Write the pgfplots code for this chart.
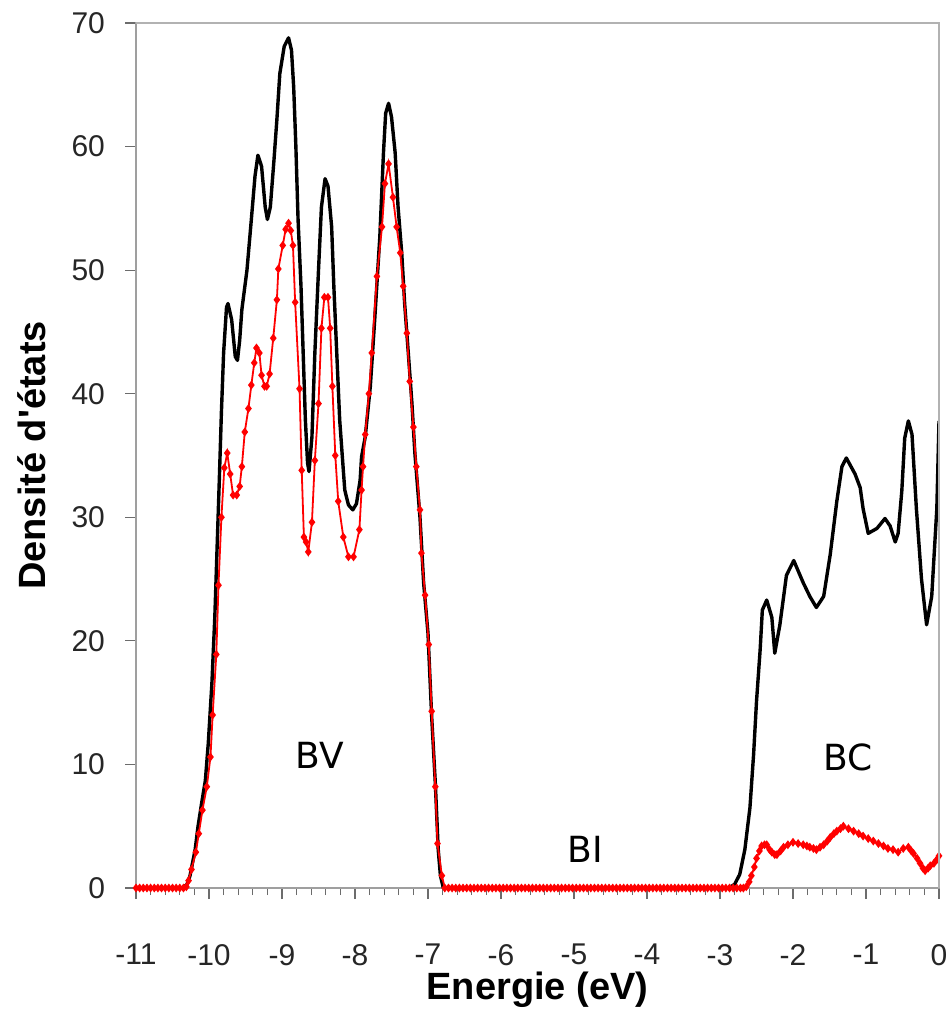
\documentclass[border=0pt]{standalone}
\usepackage{pgfplots}
\pgfplotsset{compat=1.18}
\usepackage{fontspec}
\setmainfont{Liberation Sans}
\newfontfamily\annfont{DejaVu Sans}
\begin{document}
\begin{tikzpicture}
\begin{axis}[
  name=ax,
  scale only axis,
  width=401.5pt, height=432.5pt,
  xmin=-11, xmax=0, ymin=0, ymax=70,
  xtick={-11,-10,-9,-8,-7,-6,-5,-4,-3,-2,-1,0},
  xticklabels={-11,-10,-9,-8,-7,-6,-5,-4,-3,-2,-1,0},
  minor x tick num=4,
  ytick={0,10,20,30,40,50,60,70},
  tick align=outside,
  xtick pos=bottom, ytick pos=left,
  major tick length=5.5pt, minor tick length=3.5pt,
  every tick/.style={gray!85!black, line width=0.6pt},
  axis line style={gray!75, line width=0.8pt},
  /pgf/number format/assume math mode=true,
  every tick label/.append style={font=\fontsize{15}{18}\selectfont, text=black!85},
  every x tick label/.append style={yshift=-19pt},
  every y tick label/.append style={xshift=-6.5pt},
  xlabel={Energie (eV)},
  ylabel={Densité d\textquotesingle états},
  label style={font=\fontsize{19}{22}\selectfont\bfseries},
  xlabel style={at={(axis description cs:0.5,-0.118)}, anchor=center},
  ylabel style={at={(axis description cs:-0.1295,0.5)}, anchor=center, rotate=0},
]
\addplot[black, line width=1.7pt, line join=round] coordinates {
(-11,0) (-10.36,0) (-10.30,0.3) (-10.26,1.0) (-10.22,2.2) (-10.19,3.1) (-10.15,5.0) (-10.10,6.9) (-10.05,8.7) (-10.01,11.7) (-9.96,16.6) (-9.92,22.0) (-9.89,27.4) (-9.86,32.8) (-9.83,38.5) (-9.80,43.3) (-9.76,47.0) (-9.74,47.3) (-9.69,46.0) (-9.64,43.0) (-9.61,42.7) (-9.58,44.3) (-9.55,46.8) (-9.48,50.0) (-9.42,54.1) (-9.37,57.6) (-9.33,59.3) (-9.28,58.4) (-9.23,55.1) (-9.20,54.1) (-9.16,55.1) (-9.11,58.9) (-9.07,62.2) (-9.03,65.9) (-8.97,68.1) (-8.91,68.8) (-8.87,67.8) (-8.84,64.8) (-8.81,60.0) (-8.78,54.1) (-8.74,48.7) (-8.71,43.3) (-8.68,37.9) (-8.65,34.4) (-8.63,33.7) (-8.59,36.5) (-8.55,43.3) (-8.50,50.0) (-8.46,55.1) (-8.41,57.4) (-8.37,56.8) (-8.32,53.5) (-8.29,48.7) (-8.25,43.3) (-8.21,37.9) (-8.16,33.8) (-8.14,32.2) (-8.09,31.0) (-8.03,30.6) (-7.98,31.1) (-7.93,33.0) (-7.91,34.9) (-7.86,36.5) (-7.79,40.6) (-7.73,46.0) (-7.66,52.7) (-7.61,59.5) (-7.58,62.7) (-7.54,63.5) (-7.50,62.4) (-7.45,59.5) (-7.41,55.1) (-7.36,51.4) (-7.32,47.3) (-7.27,43.3) (-7.22,39.2) (-7.18,35.2) (-7.11,30.0) (-7.06,24.7) (-7.00,20.6) (-6.95,13.9) (-6.90,8.5) (-6.86,3.1) (-6.83,1.0) (-6.79,0)
(-2.88,0) (-2.80,0.3) (-2.73,1.1) (-2.66,3.1) (-2.59,6.5) (-2.54,10.8) (-2.50,15.1) (-2.45,19.3) (-2.42,22.5) (-2.36,23.3) (-2.29,21.9) (-2.25,19.0) (-2.18,21.3) (-2.09,25.3) (-1.99,26.5) (-1.86,24.7) (-1.77,23.6) (-1.68,22.7) (-1.58,23.6) (-1.49,27.0) (-1.40,31.3) (-1.33,34.1) (-1.27,34.8) (-1.15,33.5) (-1.08,32.4) (-1.04,30.7) (-0.97,28.7) (-0.85,29.1) (-0.74,29.9) (-0.67,29.3) (-0.60,28.0) (-0.56,28.7) (-0.51,32.1) (-0.47,36.4) (-0.42,37.8) (-0.37,36.7) (-0.31,30.7) (-0.24,25.0) (-0.17,21.3) (-0.10,23.6) (-0.03,30.7) (0,37.8)
};
\addplot[red, line width=0.9pt, mark=diamond*, mark size=1.5pt, mark options={fill=red, draw=red}] coordinates {
(-11,0) (-10.95,0) (-10.90,0) (-10.85,0) (-10.80,0) (-10.75,0) (-10.70,0) (-10.65,0) (-10.60,0) (-10.55,0) (-10.50,0) (-10.45,0) (-10.40,0) (-10.35,0) (-10.31,0.1)
(-10.28,0.6) (-10.24,1.5) (-10.18,2.9) (-10.14,4.4) (-10.09,6.3) (-10.03,8.2) (-9.98,10.6) (-9.95,14.0) (-9.90,18.9) (-9.87,24.5) (-9.83,30.0) (-9.79,34.0) (-9.75,35.2) (-9.71,33.5) (-9.67,31.8) (-9.62,31.8) (-9.58,32.5) (-9.55,34.1) (-9.51,36.9) (-9.46,38.8) (-9.42,40.7) (-9.38,42.5) (-9.35,43.7) (-9.31,43.3) (-9.28,41.5) (-9.24,40.6) (-9.21,40.6) (-9.17,41.6) (-9.12,44.5) (-9.07,47.6) (-9.05,50.1) (-8.99,52.0) (-8.95,53.3) (-8.91,53.8) (-8.88,53.2) (-8.85,52.0) (-8.82,47.4) (-8.76,40.4) (-8.73,33.8) (-8.70,28.4) (-8.67,28.0) (-8.64,27.2) (-8.59,29.6) (-8.55,34.6) (-8.50,39.2) (-8.46,45.3) (-8.42,47.8) (-8.37,47.8) (-8.34,45.3) (-8.31,40.6) (-8.27,35.0) (-8.23,31.3) (-8.16,28.4) (-8.09,26.8) (-8.02,26.8) (-7.94,29.0) (-7.91,32.2) (-7.89,34.1) (-7.86,36.7) (-7.81,40.0) (-7.77,43.3) (-7.70,49.5) (-7.63,53.5) (-7.59,57.0) (-7.54,58.6) (-7.48,55.9) (-7.43,53.5) (-7.38,51.4) (-7.34,48.7) (-7.29,44.9) (-7.25,41.0) (-7.20,37.3) (-7.16,34.1) (-7.11,30.6) (-7.09,27.1) (-7.04,23.7) (-6.99,19.7) (-6.95,14.3) (-6.90,8.2) (-6.87,3.6) (-6.81,1.0) (-6.77,0)
(-6.72,0) (-6.67,0) (-6.62,0) (-6.57,0) (-6.52,0) (-6.47,0) (-6.42,0) (-6.37,0) (-6.32,0) (-6.27,0) (-6.22,0) (-6.17,0) (-6.12,0) (-6.07,0) (-6.02,0) (-5.97,0) (-5.92,0) (-5.87,0) (-5.82,0) (-5.77,0) (-5.72,0) (-5.67,0) (-5.62,0) (-5.57,0) (-5.52,0) (-5.47,0) (-5.42,0) (-5.37,0) (-5.32,0) (-5.27,0) (-5.22,0) (-5.17,0) (-5.12,0) (-5.07,0) (-5.02,0) (-4.97,0) (-4.92,0) (-4.87,0) (-4.82,0) (-4.77,0) (-4.72,0) (-4.67,0) (-4.62,0) (-4.57,0) (-4.52,0) (-4.47,0) (-4.42,0) (-4.37,0) (-4.32,0) (-4.27,0) (-4.22,0) (-4.17,0) (-4.12,0) (-4.07,0) (-4.02,0) (-3.97,0) (-3.92,0) (-3.87,0) (-3.82,0) (-3.77,0) (-3.72,0) (-3.67,0) (-3.62,0) (-3.57,0) (-3.52,0) (-3.47,0) (-3.42,0) (-3.37,0) (-3.32,0) (-3.27,0) (-3.22,0) (-3.17,0) (-3.12,0) (-3.07,0) (-3.02,0) (-2.97,0) (-2.92,0) (-2.87,0) (-2.82,0) (-2.77,0) (-2.72,0) (-2.68,0)
(-2.64,0.1) (-2.60,0.5) (-2.57,1.0) (-2.53,1.7) (-2.50,2.4) (-2.46,3.0) (-2.43,3.4) (-2.39,3.5) (-2.36,3.5) (-2.32,3.1) (-2.29,2.9) (-2.25,2.7) (-2.22,2.7) (-2.17,3.0) (-2.13,3.3) (-2.07,3.5) (-2.00,3.7) (-1.93,3.6) (-1.86,3.5) (-1.81,3.4) (-1.77,3.3) (-1.72,3.2) (-1.68,3.1) (-1.63,3.3) (-1.58,3.5) (-1.53,3.8) (-1.49,4.1) (-1.44,4.4) (-1.40,4.6) (-1.35,4.8) (-1.31,5.0) (-1.24,4.8) (-1.17,4.6) (-1.10,4.4) (-1.04,4.2) (-0.97,4.0) (-0.90,3.8) (-0.83,3.6) (-0.76,3.4) (-0.70,3.2) (-0.63,3.1) (-0.56,2.9) (-0.49,3.2) (-0.42,3.3) (-0.38,3.0) (-0.35,2.8) (-0.30,2.4) (-0.26,2.0) (-0.22,1.6) (-0.19,1.4) (-0.15,1.6) (-0.12,1.8) (-0.07,2.0) (-0.03,2.3) (0,2.6)
};
\node[font=\annfont\fontsize{18}{20}\selectfont] at (axis cs:-8.48,10.76) {BV};
\node[font=\annfont\fontsize{18}{20}\selectfont] at (axis cs:-4.85,3.1) {BI};
\node[font=\annfont\fontsize{18}{20}\selectfont] at (axis cs:-1.25,10.6) {BC};
\end{axis}
\draw[gray!60, line width=1pt] (ax.north west) -- (ax.north east) -- (ax.south east);
\pgfresetboundingbox
\path (ax.south west) ++(-68pt,-63pt) coordinate (bbl);
\path (ax.north east) ++(5.5pt,11.5pt) coordinate (btr);
\useasboundingbox (bbl) rectangle (btr);
\end{tikzpicture}
\end{document}
